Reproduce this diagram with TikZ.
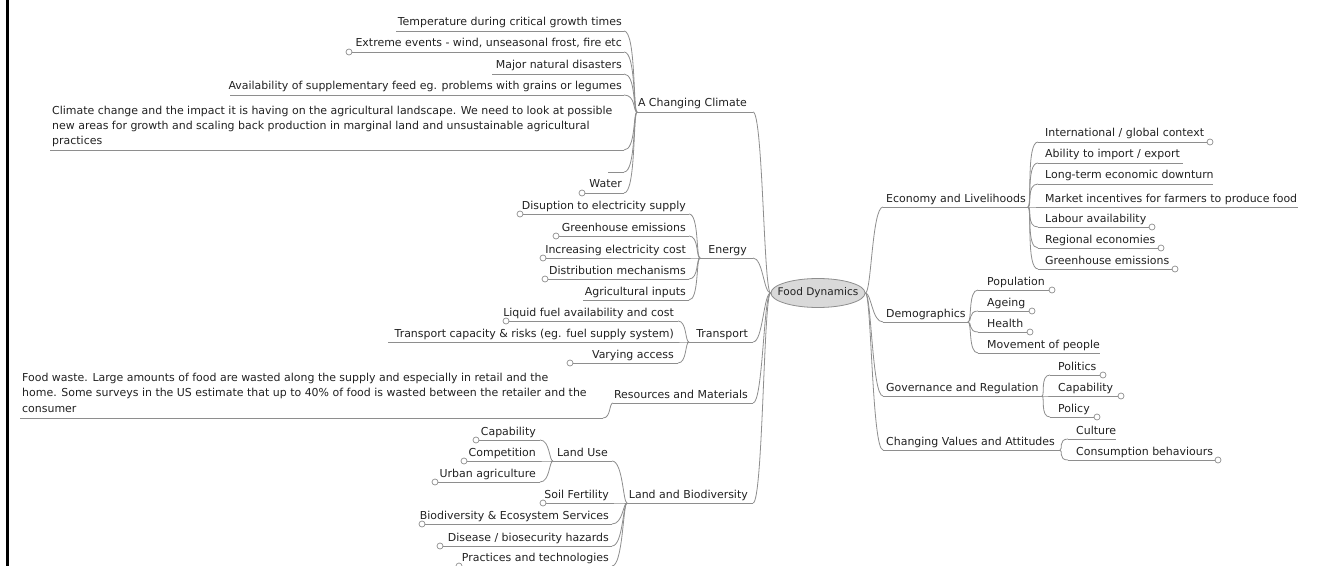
\documentclass[tikz,border=0pt]{standalone}
\usepackage{fontspec}
\setmainfont{DejaVu Sans}
\usetikzlibrary{calc,shapes.geometric}
\definecolor{txt}{HTML}{222222}
\definecolor{ln}{HTML}{8E8E8E}
\definecolor{ellfill}{HTML}{D9D9D9}
\tikzset{
  lbl/.style={font=\fontsize{11}{15.5}\selectfont, text=txt, inner sep=0pt},
  uline/.style={draw=ln, line width=0.8bp},
  conn/.style={draw=ln, line width=0.8bp},
  knob/.style={circle, draw=ln, fill=white, line width=0.7bp, minimum size=6bp, inner sep=0pt},
}
% left leaf: name, underline y, far x (left), text right x, near x (right), text
\newcommand\lleaf[6]{%
  \coordinate (#1-a) at (#3,#2);
  \coordinate (#1-b) at (#5,#2);
  \draw[uline] (#1-a) -- (#1-b);
  \node[lbl, anchor=base east] (#1) at (#4,#2-5) {#6};
}
% right leaf: name, underline y, near x (left), text left x, far x (right), text
\newcommand\rleaf[6]{%
  \coordinate (#1-a) at (#3,#2);
  \coordinate (#1-b) at (#5,#2);
  \draw[uline] (#1-a) -- (#1-b);
  \node[lbl, anchor=base west] (#1) at (#4,#2-5) {#6};
}
\newcommand\knobat[1]{\node[knob] (#1-k) at (#1) {};}
\newcommand\lconn[4]{\draw[conn] (#1) .. controls ($(#1)+(-#3,0)$) and ($(#2)+(#4,0)$) .. (#2);}
\newcommand\rconn[4]{\draw[conn] (#1) .. controls ($(#1)+(#3,0)$) and ($(#2)+(-#4,0)$) .. (#2);}
\begin{document}
\begin{tikzpicture}[x=1bp,y=-1bp]
\useasboundingbox[fill=white] (0,0) rectangle (1332,566);
\draw[line width=3bp, black] (7.5,0) -- (7.5,566);

% root
\node[ellipse, draw=ln, fill=ellfill, line width=0.8bp, minimum width=94bp, minimum height=29bp, lbl, font=\fontsize{10.6}{13}\selectfont] (root) at (818,293) {\makebox[60bp]{Food Dynamics}};

% ===== A Changing Climate =====
\lleaf{clim}{112}{637}{747}{753}{A Changing Climate}
\lconn{root.west}{clim-b}{7}{10}
\lleaf{temp}{31}{396}{622}{624}{Temperature during critical growth times}
\lleaf{extreme}{52}{349}{622}{624}{Extreme events - wind, unseasonal frost, fire etc}
\knobat{extreme-a}
\lleaf{major}{74}{492}{622}{624}{Major natural disasters}
\lleaf{avail}{95}{230}{622}{624}{Availability of supplementary feed eg. problems with grains or legumes}
\coordinate (ccpara-a) at (50,150);
\coordinate (ccpara-b) at (624,150);
\draw[uline] (ccpara-a) -- (ccpara-b);
\node[lbl, anchor=base west, align=left] (ccpara) at (52,145) {Climate change and the impact it is having on the agricultural landscape. We need to look at possible\\new areas for growth and scaling back production in marginal land and unsustainable agricultural\\practices};
\coordinate (blank-a) at (608,172);
\coordinate (blank-b) at (624,172);
\draw[uline] (blank-a) -- (blank-b);
\lleaf{water}{193}{582}{622}{624}{Water}
\knobat{water-a}
\foreach \c in {temp,extreme,major,avail,ccpara,blank,water}{\lconn{clim-a}{\c-b}{4}{12}}

% ===== Energy =====
\lleaf{ener}{258}{700}{747}{753}{Energy}
\lconn{root.west}{ener-b}{7}{10}
\lleaf{disrupt}{214}{520}{686}{689}{Disuption to electricity supply}
\knobat{disrupt-a}
\lleaf{ghga}{236}{556}{686}{689}{Greenhouse emissions}
\knobat{ghga-a}
\lleaf{incr}{258}{543}{686}{689}{Increasing electricity cost}
\knobat{incr-a}
\lleaf{distr}{279}{545}{686}{689}{Distribution mechanisms}
\knobat{distr-a}
\lleaf{agri}{300}{583}{686}{689}{Agricultural inputs}
\foreach \c in {disrupt,ghga,incr,distr,agri}{\lconn{ener-a}{\c-b}{4}{10}}

% ===== Transport =====
\lleaf{trans}{342}{689}{748}{753}{Transport}
\lconn{root.west}{trans-b}{7}{10}
\lleaf{liquid}{321}{506}{674}{678}{Liquid fuel availability and cost}
\knobat{liquid-a}
\lleaf{capac}{342}{388}{674}{678}{Transport capacity \& risks (eg. fuel supply system)}
\lleaf{vary}{363}{570}{674}{678}{Varying access}
\knobat{vary-a}
\foreach \c in {liquid,capac,vary}{\lconn{trans-a}{\c-b}{4}{9}}

% ===== Resources and Materials =====
\lleaf{res}{403}{613}{748}{753}{Resources and Materials}
\lconn{root.west}{res-b}{7}{10}
\coordinate (fw-a) at (20,418);
\coordinate (fw-b) at (603,418);
\draw[uline] (fw-a) -- (fw-b);
\node[lbl, anchor=base west, align=left] (fw) at (22,412) {Food waste. Large amounts of food are wasted along the supply and especially in retail and the\\home. Some surveys in the US estimate that up to 40\% of food is wasted between the retailer and the\\consumer};
\lconn{res-a}{fw-b}{4}{8}

% ===== Land and Biodiversity =====
\lleaf{lb}{503}{627}{748}{753}{Land and Biodiversity}
\lconn{root.west}{lb-b}{7}{10}
\lleaf{landuse}{461}{553}{608}{612}{Land Use}
\lleaf{capa}{440}{476}{536}{540}{Capability}
\knobat{capa-a}
\lleaf{comp}{461}{464}{536}{540}{Competition}
\knobat{comp-a}
\lleaf{urban}{482}{435}{536}{540}{Urban agriculture}
\knobat{urban-a}
\foreach \c in {capa,comp,urban}{\lconn{landuse-a}{\c-b}{4}{10}}
\lleaf{soil}{503}{543}{609}{612}{Soil Fertility}
\knobat{soil-a}
\lleaf{biodiv}{524}{422}{609}{612}{Biodiversity \& Ecosystem Services}
\knobat{biodiv-a}
\lleaf{disease}{546}{440}{609}{612}{Disease / biosecurity hazards}
\knobat{disease-a}
\lleaf{practices}{566}{459}{609}{612}{Practices and technologies}
\knobat{practices-a}
\foreach \c in {landuse,soil,biodiv,disease,practices}{\lconn{lb-a}{\c-b}{4}{11}}

% ===== Economy and Livelihoods =====
\rleaf{econ}{207}{883}{886}{1028}{Economy and Livelihoods}
\rconn{root.east}{econ-a}{6}{11}
\rleaf{intl}{142}{1038}{1045}{1210}{International / global context}
\knobat{intl-b}
\rleaf{ability}{163}{1038}{1045}{1183}{Ability to import / export}
\rleaf{longterm}{184}{1038}{1045}{1213}{Long-term economic downturn}
\rleaf{market}{207}{1038}{1045}{1298}{Market incentives for farmers to produce food}
\rleaf{labour}{227}{1038}{1045}{1152}{Labour availability}
\knobat{labour-b}
\rleaf{regional}{248}{1038}{1045}{1161}{Regional economies}
\knobat{regional-b}
\rleaf{ghgb}{269}{1038}{1045}{1175}{Greenhouse emissions}
\knobat{ghgb-b}
\foreach \c in {intl,ability,longterm,market,labour,regional,ghgb}{\rconn{econ-b}{\c-a}{4}{12}}

% ===== Demographics =====
\rleaf{demo}{322}{883}{886}{968}{Demographics}
\rconn{root.east}{demo-a}{6}{11}
\rleaf{popu}{290}{978}{987}{1052}{Population}
\knobat{popu-b}
\rleaf{ageing}{311}{978}{987}{1032}{Ageing}
\knobat{ageing-b}
\rleaf{health}{332}{978}{987}{1030}{Health}
\knobat{health-b}
\rleaf{movement}{353}{978}{987}{1100}{Movement of people}
\foreach \c in {popu,ageing,health,movement}{\rconn{demo-b}{\c-a}{4}{10}}

% ===== Governance and Regulation =====
\rleaf{gov}{396}{883}{886}{1042}{Governance and Regulation}
\rconn{root.east}{gov-a}{6}{11}
\rleaf{politics}{375}{1050}{1058}{1103}{Politics}
\knobat{politics-b}
\rleaf{capb}{396}{1050}{1058}{1121}{Capability}
\knobat{capb-b}
\rleaf{policy}{417}{1050}{1058}{1097}{Policy}
\knobat{policy-b}
\foreach \c in {politics,capb,policy}{\rconn{gov-b}{\c-a}{3}{10}}

% ===== Changing Values and Attitudes =====
\rleaf{vals}{450}{883}{886}{1060}{Changing Values and Attitudes}
\rconn{root.east}{vals-a}{6}{11}
\rleaf{culture}{439}{1068}{1076}{1116}{Culture}
\rleaf{consum}{460}{1068}{1076}{1218}{Consumption behaviours}
\knobat{consum-b}
\foreach \c in {culture,consum}{\rconn{vals-b}{\c-a}{3}{10}}
\end{tikzpicture}
\end{document}
